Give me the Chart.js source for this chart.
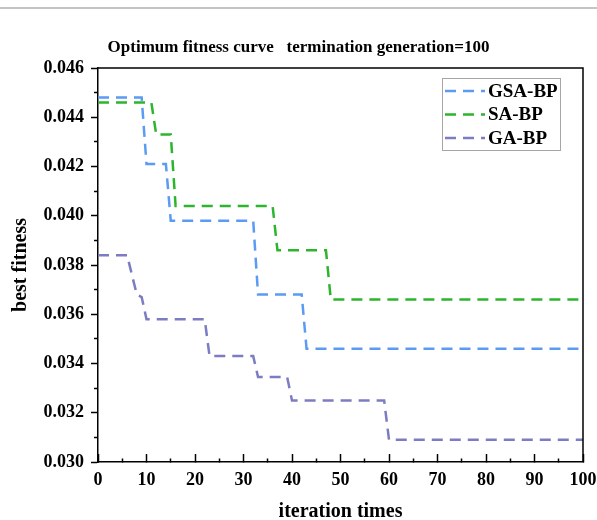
<!DOCTYPE html>
<html>
<head>
<meta charset="utf-8">
<script src="https://cdn.jsdelivr.net/npm/chart.js@4"></script>
<style>
  body { margin: 0; background: #fff; overflow: hidden; }
  #wrap { position: relative; width: 597px; height: 520px; }
  #rule { position: absolute; left: 0; top: 7px; width: 597px; height: 2px; background: #c4c4c4; }
</style>
</head>
<body>
<div id="wrap">
  <canvas id="myChart" width="597" height="520"></canvas>
  <div id="rule"></div>
</div>
<script>
// break points of each step curve (iteration, best fitness)
var gsa_x = [0, 9, 10, 14, 15, 32, 33, 42, 43, 100]
var gsa_y = [0.0448, 0.0448, 0.0421, 0.0421, 0.0398, 0.0398, 0.0368, 0.0368, 0.0346, 0.0346]

var sa_x = [0, 11, 12, 15, 16, 36, 37, 47, 48, 100]
var sa_y = [0.0446, 0.0446, 0.0433, 0.0433, 0.0404, 0.0404, 0.0386, 0.0386, 0.0366, 0.0366]

var ga_x = [0, 6, 8, 9, 10, 22, 23, 32, 33, 39, 40, 59, 60, 100]
var ga_y = [0.0384, 0.0384, 0.0368, 0.0367, 0.0358, 0.0358, 0.0343, 0.0343, 0.03345, 0.03345, 0.0325, 0.0325, 0.0309, 0.0309]

var series_names = ['GSA-BP', 'SA-BP', 'GA-BP']
var series_colors = ['#5b9bf2', '#2db52d', '#7c7cc2']

var title_text = 'Optimum fitness curve   termination generation=100'
var x_title = 'iteration times'
var y_title = 'best fitness'

var serif = "'Liberation Serif', 'Times New Roman', serif"

function pts(xs, ys) {
  var out = []
  for (var i = 0; i < xs.length; i++) out.push({ x: xs[i], y: ys[i] })
  return out
}

var dash = [11, 7]

// frame, title and boxed legend
var decor = {
  id: 'decor',
  afterDraw: function (chart) {
    var ctx = chart.ctx
    var a = chart.chartArea
    ctx.save()
    ctx.strokeStyle = '#000'
    ctx.lineWidth = 1.5
    ctx.beginPath()
    ctx.moveTo(a.left, a.top)
    ctx.lineTo(a.right, a.top)
    ctx.lineTo(a.right, a.bottom)
    ctx.stroke()

    ctx.fillStyle = '#000'
    ctx.font = 'bold 17px ' + serif
    ctx.textAlign = 'center'
    ctx.textBaseline = 'middle'
    ctx.fillText(title_text, 298.5, 48)

    // legend
    ctx.strokeStyle = '#a6a6a6'
    ctx.lineWidth = 1
    ctx.strokeRect(442.5, 78.5, 118, 72)
    ctx.font = 'bold 19px ' + serif
    ctx.textAlign = 'left'
    chart.data.datasets.forEach(function (ds, i) {
      var y = 91 + i * 23.5
      ctx.strokeStyle = ds.borderColor
      ctx.lineWidth = 2.5
      ctx.setLineDash(dash)
      ctx.beginPath()
      ctx.moveTo(445, y)
      ctx.lineTo(485, y)
      ctx.stroke()
      ctx.setLineDash([])
      ctx.fillStyle = '#000'
      ctx.fillText(ds.label, 488, y + 1)
    })
    ctx.restore()
  }
}

var myChart = document.getElementById('myChart').getContext('2d')

var chart = new Chart(myChart, {
  type: 'line',
  data: {
    datasets: [
      { label: series_names[0], data: pts(gsa_x, gsa_y), borderColor: series_colors[0] },
      { label: series_names[1], data: pts(sa_x, sa_y), borderColor: series_colors[1] },
      { label: series_names[2], data: pts(ga_x, ga_y), borderColor: series_colors[2] }
    ].map(function (d) {
      d.borderWidth = 2.5
      d.borderDash = dash
      d.pointRadius = 0
      d.tension = 0
      d.fill = false
      return d
    })
  },
  options: {
    responsive: false,
    animation: false,
    layout: { padding: { top: 68, right: 14, left: 0, bottom: 0 } },
    plugins: { legend: { display: false }, title: { display: false }, tooltip: { enabled: false } },
    scales: {
      x: {
        type: 'linear',
        min: 0,
        max: 100,
        afterFit: function (s) { s.height = 58; s.paddingLeft = 0; s.paddingRight = 0 },
        border: { color: '#000', width: 1.5 },
        grid: {
          drawOnChartArea: false,
          tickLength: -8,
          tickColor: '#000',
          tickWidth: 1.5,
          tickBorderDash: function (c) { return c.tick && c.tick.value % 10 !== 0 ? [4, 20] : [] }
        },
        ticks: {
          stepSize: 5,
          autoSkip: false,
          maxRotation: 0,
          padding: 16,
          color: '#000',
          font: { family: serif, size: 18, weight: 'bold' },
          callback: function (v) { return v % 10 === 0 ? String(v) : '' }
        },
        title: {
          display: true,
          text: x_title,
          color: '#000',
          font: { family: serif, size: 20, weight: 'bold', lineHeight: 1 },
          padding: { top: 0, bottom: -2 }
        }
      },
      y: {
        min: 0.030,
        max: 0.046,
        afterFit: function (s) { s.width = 98; s.paddingTop = 0; s.paddingBottom = 0 },
        border: { color: '#000', width: 1.5 },
        grid: {
          drawOnChartArea: false,
          tickLength: 7,
          tickColor: '#000',
          tickWidth: 1.5,
          tickBorderDash: function (c) {
            if (!c.tick) return []
            return Math.round(c.tick.value * 1000) % 2 !== 0 ? [0, 3, 4, 20] : []
          }
        },
        ticks: {
          stepSize: 0.001,
          autoSkip: false,
          padding: 7,
          color: '#000',
          font: { family: serif, size: 18, weight: 'bold' },
          callback: function (v) { return Math.round(v * 1000) % 2 === 0 ? v.toFixed(3) : '' }
        },
        title: {
          display: true,
          text: y_title,
          color: '#000',
          font: { family: serif, size: 20, weight: 'bold', lineHeight: 1 },
          padding: { top: 11, bottom: 0 }
        }
      }
    }
  },
  plugins: [decor]
})
</script>
</body>
</html>
